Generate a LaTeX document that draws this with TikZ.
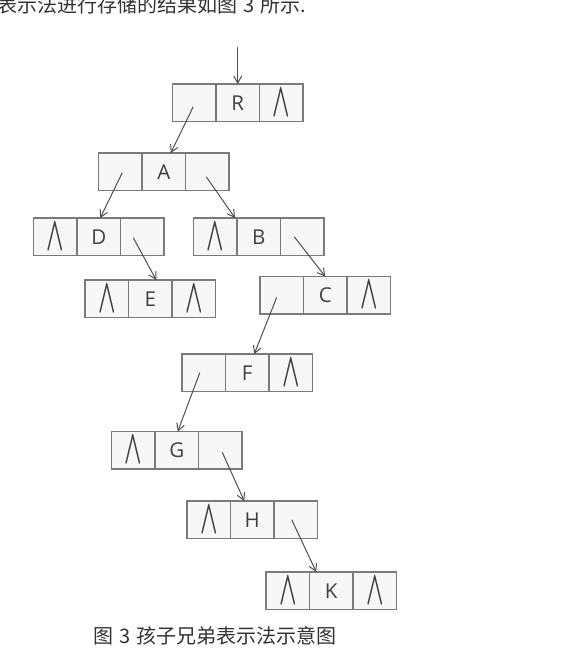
\documentclass[tikz,border=0pt]{standalone}
\usepackage{fontspec}
\setmainfont{Noto Sans CJK SC}
\newfontfamily\letterfont{Open Sans}
\usetikzlibrary{arrows.meta}
\definecolor{boxf}{HTML}{F7F7F7}
\definecolor{boxc}{HTML}{7A7A7A}
\definecolor{arrc}{HTML}{4F4F4F}
\definecolor{txtc}{HTML}{333333}
\definecolor{lettc}{HTML}{404040}
\newcommand{\nul}{\resizebox{17.5pt}{27pt}{\boldmath$\wedge$}}
\newcommand{\gap}{\hspace{6pt}}
\newcommand{\tripnode}[6]{%
  \node[cell] (#1-l) at ({#2+21.75},{#3+18.75}) {#4};
  \node[cell] (#1-m) at ({#2+65.25},{#3+18.75}) {#5};
  \node[cell] (#1-r) at ({#2+108.75},{#3+18.75}) {#6};
}
\begin{document}
\begin{tikzpicture}[x=1pt,y=-1pt,
  cell/.style={draw=boxc, fill=boxf, line width=1.3pt, minimum width=43.5pt, minimum height=37.5pt,
    inner sep=0pt, outer sep=0pt, text=lettc, font=\letterfont\fontsize{20.5}{20.5}\selectfont},
  arr/.style={draw=arrc, line width=1pt, -{Straight Barb[length=7pt,width=8pt]}},
  caption/.style={text=txtc, font=\fontsize{20}{20}\selectfont, inner sep=0pt}]
\useasboundingbox (0,0) rectangle (586,664);
\tripnode{R}{172.5}{84}{}{R}{\nul}
\tripnode{A}{98.5}{153}{}{A}{}
\tripnode{D}{33.5}{218}{\nul}{D}{}
\tripnode{B}{193.5}{218}{\nul}{B}{}
\tripnode{E}{85}{280}{\nul}{E}{\nul}
\tripnode{C}{260}{276.5}{}{C}{\nul}
\tripnode{F}{182}{354}{}{F}{\nul}
\tripnode{G}{111.5}{431.5}{\nul}{G}{}
\tripnode{H}{187}{501}{\nul}{H}{}
\tripnode{K}{266}{572}{\nul}{K}{\nul}
\coordinate (top) at (237.75,47);
\draw[arr] (top) -- (R-m.north);
\draw[arr] ([shift={(-1,4)}]R-l.center) -- ([xshift=7]A-m.north);
\draw[arr] ([shift={(2,1)}]A-l.center) -- ([xshift=1.5]D-m.north);
\draw[arr] ([shift={(-1,5)}]A-r.center) -- ([xshift=-2]B-m.north west);
\draw[arr] ([shift={(-9,1)}]D-r.center) -- ([xshift=6]E-m.north);
\draw[arr] ([shift={(-8,0)}]B-r.center) -- (C-m.north);
\draw[arr] ([shift={(-5,2)}]C-l.center) -- ([xshift=7]F-m.north);
\draw[arr] ([shift={(-4,0)}]F-l.center) -- ([xshift=1]G-m.north);
\draw[arr] ([shift={(2,2)}]G-r.center) -- ([xshift=-8]H-m.north);
\draw[arr] ([shift={(-4,0)}]H-r.center) -- ([xshift=-15]K-m.north);
\node[caption, anchor=base west] (intro) at (-3,12.4) {表示法进行存储的结果如图\gap 3\gap 所示.};
\node[caption, anchor=west] (cap) at (93,636) {图\gap 3\gap 孩子兄弟表示法示意图};
\end{tikzpicture}
\end{document}
